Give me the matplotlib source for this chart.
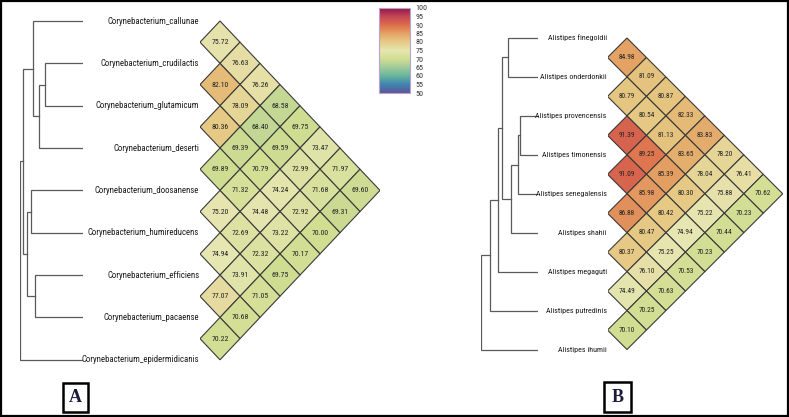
import numpy as np
import matplotlib
matplotlib.use("Agg")
import matplotlib.pyplot as plt
from matplotlib.patches import Polygon, Rectangle
from matplotlib.colors import LinearSegmentedColormap, Normalize
import matplotlib.cm as cm

# ---------------- data ----------------
labels_a = ["Corynebacterium_callunae", "Corynebacterium_crudilactis",
            "Corynebacterium_glutamicum", "Corynebacterium_deserti",
            "Corynebacterium_doosanense", "Corynebacterium_humireducens",
            "Corynebacterium_efficiens", "Corynebacterium_pacaense",
            "Corynebacterium_epidermidicanis"]
# upper triangle: row i holds values for pairs (i, j), j = i+1 .. 8
vals_a = [
    [75.72, 76.63, 76.26, 68.58, 69.75, 73.47, 71.97, 69.60],
    [82.10, 78.09, 68.40, 69.59, 72.99, 71.68, 69.31],
    [80.36, 69.39, 70.79, 74.24, 72.92, 70.00],
    [69.89, 71.32, 74.48, 73.22, 70.17],
    [75.20, 72.69, 72.32, 69.75],
    [74.94, 73.91, 71.05],
    [77.07, 70.68],
    [70.22],
]
# linkage (left child, right child, height); leaves 0..8, new clusters 9..16
link_a = [(1, 2, 0.38), (9, 3, 0.44), (0, 10, 0.50), (4, 5, 0.52),
          (6, 7, 0.48), (12, 13, 0.56), (11, 14, 0.60), (15, 8, 0.63)]

labels_b = ["Alistipes finegoldii", "Alistipes onderdonkii",
            "Alistipes provencensis", "Alistipes timonensis",
            "Alistipes senegalensis", "Alistipes shahii",
            "Alistipes megaguti", "Alistipes putredinis", "Alistipes ihumii"]
vals_b = [
    [84.98, 81.09, 80.87, 82.33, 83.83, 78.20, 76.41, 70.62],
    [80.79, 80.54, 81.13, 83.65, 78.04, 75.88, 70.23],
    [91.39, 89.25, 85.39, 80.30, 75.22, 70.44],
    [91.09, 85.98, 80.42, 74.94, 70.23],
    [86.88, 80.47, 75.25, 70.53],
    [80.37, 76.10, 70.63],
    [74.49, 70.25],
    [70.10],
]
link_b = [(0, 1, 0.30), (2, 3, 0.18), (10, 4, 0.20), (11, 5, 0.27),
          (9, 12, 0.36), (13, 6, 0.40), (14, 7, 0.48), (15, 8, 0.57)]

cbar_ticks = [50, 55, 60, 65, 70, 75, 80, 85, 90, 95, 100]
vmin, vmax = 50, 100

# ---------------- style ----------------
W, H = 789, 417
fig = plt.figure(figsize=(W / 100, H / 100), dpi=100)
fig.patch.set_facecolor("white")

NARROW = ["Liberation Sans Narrow", "Roboto Condensed", "Roboto", "DejaVu Sans"]
SERIF = ["Liberation Serif", "DejaVu Serif"]

base = plt.get_cmap("Spectral_r")
cols = base(np.linspace(0, 1, 256))[:, :3]
cols = cols * 0.82 + 0.18 * 0.45
cmap = LinearSegmentedColormap.from_list("muted_spectral", cols)
norm = Normalize(vmin, vmax)


def rect(l, t, r, b):
    return [l / W, 1 - b / H, (r - l) / W, (b - t) / H]


def dendro(ax, link, n, xmax):
    pos = {k: (float(k), 0.0) for k in range(n)}
    for idx, (a, b, h) in enumerate(link):
        ya, ha = pos[a]
        yb, hb = pos[b]
        ax.plot([ha, h, h, hb], [ya, ya, yb, yb], color="#5a5a5a", lw=0.9,
                solid_joinstyle="miter")
        pos[n + idx] = ((ya + yb) / 2, h)
    ax.set_xlim(xmax, 0)
    ax.set_ylim(n - 0.5, -0.5)
    ax.axis("off")


def heat(ax, vals, labels, n, fs_lab, fs_num):
    for i, row in enumerate(vals):
        for k, v in enumerate(row):
            j = i + 1 + k
            x = 1 + (j - i - 1)
            y = (i + j) / 2
            poly = Polygon([(x - 1, y), (x, y - 0.5), (x + 1, y), (x, y + 0.5)],
                           closed=True, facecolor=cmap(norm(v)),
                           edgecolor="#3a3a3a", lw=0.8)
            ax.add_patch(poly)
            ax.text(x, y, f"{v:.2f}", ha="center", va="center",
                    fontsize=fs_num, family=NARROW, color="#222222")
    for k, lab in enumerate(labels):
        ax.annotate(lab, (0, k), xytext=(-0.6, 0), textcoords="offset points",
                    ha="right", va="center", fontsize=fs_lab, family=NARROW,
                    color="#1a1a1a", annotation_clip=False)
    ax.set_xlim(0, 9)
    ax.set_ylim(n - 0.5, -0.5)
    ax.axis("off")


n = 9
# ---- panel A ----
y0a, sa = 21.0, 42.35
ta, ba = y0a - 0.5 * sa, y0a + 8.5 * sa
axd_a = fig.add_axes(rect(20, ta, 83, ba))
dendro(axd_a, link_a, n, 0.63)
axh_a = fig.add_axes(rect(200, ta, 380, ba))
heat(axh_a, vals_a, labels_a, n, 6.3, 5.6)

# ---- panel B ----
y0b, sb = 38.0, 38.94
tb, bb = y0b - 0.5 * sb, y0b + 8.5 * sb
axd_b = fig.add_axes(rect(481, tb, 538, bb))
dendro(axd_b, link_b, n, 0.57)
axh_b = fig.add_axes(rect(607.5, tb, 607.5 + 9 * 19.47, bb))
heat(axh_b, vals_b, labels_b, n, 5.8, 5.3)

# ---- colorbar ----
cax = fig.add_axes(rect(379, 8, 410, 93))
sm = cm.ScalarMappable(norm=norm, cmap=cmap)
cb = fig.colorbar(sm, cax=cax, ticks=cbar_ticks)
cb.outline.set_edgecolor("#b8a2d2")
cb.outline.set_linewidth(0.8)
cax.tick_params(length=0, pad=4, labelsize=5.8, labelcolor="#333333")
for t in cax.get_yticklabels():
    t.set_family(NARROW)

# ---- panel letters ----
for (l, t, r, b), letter in [((63, 383, 88, 412), "A"), ((604, 382, 631, 412), "B")]:
    fig.patches.append(Rectangle((l / W, 1 - b / H), (r - l) / W, (b - t) / H,
                                 transform=fig.transFigure, fill=False,
                                 ec="black", lw=1.8))
    fig.text((l + r) / 2 / W, 1 - (t + b) / 2 / H, letter, ha="center",
             va="center", fontsize=13, fontweight="bold", family=SERIF,
             color="#1a1a3a")

# ---- outer frame ----
fig.patches.append(Rectangle((1 / W, 1 / H), (W - 2) / W, (H - 2) / H,
                             transform=fig.transFigure, fill=False,
                             ec="black", lw=1.6))

fig.savefig("out.png", dpi=100)
